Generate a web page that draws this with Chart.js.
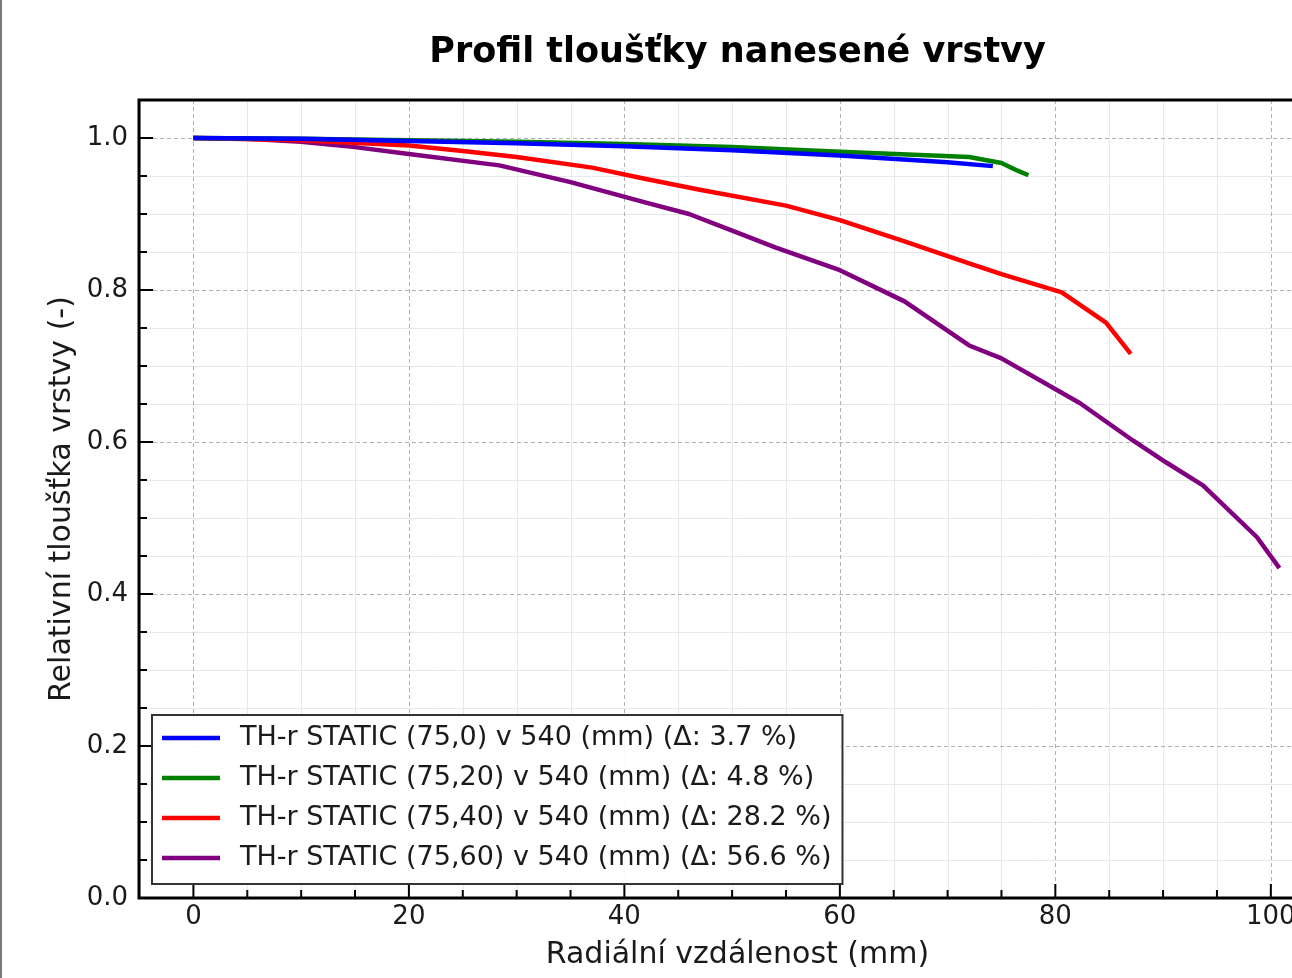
<!DOCTYPE html>
<html>
<head>
<meta charset="utf-8">
<script src="https://cdn.jsdelivr.net/npm/chart.js@4.4.1/dist/chart.umd.min.js"></script>
<style>
  html, body { margin: 0; padding: 0; background: #fff; overflow: hidden; }
  #obal { position: absolute; left: 0; top: 0; width: 1400px; height: 978px; }
  #okraj { position: absolute; left: 0; top: 0; width: 2px; height: 978px; background: #7a7a7a; }
</style>
</head>
<body>
<div id="obal"><canvas id="graf"></canvas></div>
<div id="okraj"></div>
<script>
// data (x = radialni vzdalenost v mm, y = relativni tloustka)
const modraX = [0, 10, 20, 30, 40, 50, 60, 70, 74.2];
const modraY = [1.0, 0.999, 0.996, 0.993, 0.989, 0.984, 0.977, 0.968, 0.963];

const zelenaX = [0, 10, 20, 30, 40, 50, 60, 72, 75, 76.5, 77.5];
const zelenaY = [1.0, 0.999, 0.997, 0.995, 0.992, 0.988, 0.982, 0.975, 0.967, 0.957, 0.951];

const cervenaX = [0, 10, 20, 25, 30, 37, 42, 47, 55, 60, 66, 72, 75, 80.6, 84.7, 87];
const cervenaY = [1.0, 0.997, 0.990, 0.983, 0.975, 0.961, 0.946, 0.932, 0.911, 0.892, 0.864, 0.835, 0.821, 0.797, 0.757, 0.716];

const fialovaX = [0, 5, 10, 15, 20, 28.4, 35, 42, 46, 50, 54, 60, 66, 72, 75, 82.3, 87.2, 90.3, 93.7, 98.7, 100.8];
const fialovaY = [1.0, 0.999, 0.995, 0.988, 0.979, 0.964, 0.942, 0.915, 0.900, 0.878, 0.856, 0.826, 0.785, 0.727, 0.710, 0.651, 0.602, 0.573, 0.543, 0.475, 0.434];

const popisky = [
    'TH-r STATIC (75,0) v 540 (mm) (\u0394: 3.7 %)',
    'TH-r STATIC (75,20) v 540 (mm) (\u0394: 4.8 %)',
    'TH-r STATIC (75,40) v 540 (mm) (\u0394: 28.2 %)',
    'TH-r STATIC (75,60) v 540 (mm) (\u0394: 56.6 %)'
];
const barvy = ['#0000ff', '#008000', '#ff0000', '#800080'];

const xTicky = [0, 20, 40, 60, 80, 100];
const yTicky = [0.0, 0.2, 0.4, 0.6, 0.8, 1.0];

const PISMO = 'DejaVu Sans';

function body(xs, ys) {
    return xs.map((x, i) => ({ x: x, y: ys[i] }));
}

function dataset(i, xs, ys) {
    return {
        label: popisky[i],
        data: body(xs, ys),
        borderColor: barvy[i],
        backgroundColor: barvy[i],
        borderWidth: 4.5,
        pointRadius: 0,
        tension: 0,
        fill: false,
        borderJoinStyle: 'round'
    };
}

// mrizka (hlavni carkovana, vedlejsi plna)
const mrizkaPlugin = {
    id: 'mrizka',
    beforeDatasetsDraw(chart) {
        const { ctx, chartArea: a, scales: { x, y } } = chart;
        ctx.save();
        ctx.beginPath();
        ctx.rect(a.left, a.top, a.right - a.left, a.bottom - a.top);
        ctx.clip();

        // vedlejsi
        ctx.strokeStyle = '#e8e8e8';
        ctx.lineWidth = 1;
        for (let v = -5; v <= 105; v += 5) {
            if (v % 20 === 0) continue;
            const px = Math.round(x.getPixelForValue(v)) + 0.5;
            ctx.beginPath(); ctx.moveTo(px, a.top); ctx.lineTo(px, a.bottom); ctx.stroke();
        }
        for (let k = 1; k <= 21; k++) {
            if (k % 4 === 0) continue;
            const py = Math.round(y.getPixelForValue(k * 0.05)) + 0.5;
            ctx.beginPath(); ctx.moveTo(a.left, py); ctx.lineTo(a.right, py); ctx.stroke();
        }

        // hlavni
        ctx.strokeStyle = '#b0b0b0';
        ctx.setLineDash([4, 3]);
        xTicky.forEach(v => {
            const px = Math.round(x.getPixelForValue(v)) + 0.5;
            ctx.beginPath(); ctx.moveTo(px, a.top); ctx.lineTo(px, a.bottom); ctx.stroke();
        });
        yTicky.forEach(v => {
            const py = Math.round(y.getPixelForValue(v)) + 0.5;
            ctx.beginPath(); ctx.moveTo(a.left, py); ctx.lineTo(a.right, py); ctx.stroke();
        });
        ctx.restore();
    },
    afterDatasetsDraw(chart) {
        const { ctx, chartArea: a, scales: { x, y } } = chart;
        ctx.save();
        ctx.strokeStyle = '#000';
        ctx.lineWidth = 2;
        // ticky dovnitr
        for (let v = -5; v <= 105; v += 5) {
            const px = x.getPixelForValue(v);
            if (px < a.left + 2 || px > a.right - 2) continue;
            const len = v % 20 === 0 ? 14 : 8;
            ctx.beginPath(); ctx.moveTo(px, a.bottom); ctx.lineTo(px, a.bottom - len); ctx.stroke();
        }
        for (let k = 1; k <= 20; k++) {
            const py = y.getPixelForValue(k * 0.05);
            const len = k % 4 === 0 ? 14 : 8;
            ctx.beginPath(); ctx.moveTo(a.left, py); ctx.lineTo(a.left + len, py); ctx.stroke();
        }
        // ramecek
        ctx.lineWidth = 3;
        ctx.strokeRect(a.left, a.top, a.right - a.left, a.bottom - a.top);
        ctx.restore();
    },
    afterDraw(chart) {
        // legenda vlevo dole
        const { ctx, chartArea: a } = chart;
        const sady = chart.data.datasets;
        ctx.save();
        ctx.font = '27px "' + PISMO + '"';
        let maxW = 0;
        sady.forEach(d => { maxW = Math.max(maxW, ctx.measureText(d.label).width); });
        const left = a.left + 13;
        const bottom = a.bottom - 14;
        const h = 23 + 40 * (sady.length - 1) + 26;
        const top = bottom - h;
        const w = 88 + maxW + 11;
        ctx.fillStyle = 'rgba(255,255,255,0.92)';
        ctx.fillRect(left, top, w, h);
        ctx.strokeStyle = '#333';
        ctx.lineWidth = 2;
        ctx.strokeRect(left, top, w, h);
        sady.forEach((d, i) => {
            const cy = top + 23 + 40 * i;
            ctx.strokeStyle = d.borderColor;
            ctx.lineWidth = 4.5;
            ctx.beginPath(); ctx.moveTo(left + 10, cy); ctx.lineTo(left + 68, cy); ctx.stroke();
            ctx.fillStyle = '#1a1a1a';
            ctx.textBaseline = 'middle';
            ctx.textAlign = 'left';
            ctx.fillText(d.label, left + 88, cy);
        });
        ctx.restore();
    }
};

window.onload = function () {
    const tickFont = { family: PISMO, size: 26 };
    const titleFont = { family: PISMO, size: 30 };

    new Chart(document.getElementById('graf'), {
        type: 'line',
        data: {
            datasets: [
                dataset(0, modraX, modraY),
                dataset(1, zelenaX, zelenaY),
                dataset(2, cervenaX, cervenaY),
                dataset(3, fialovaX, fialovaY)
            ]
        },
        options: {
            responsive: true,
            maintainAspectRatio: false,
            animation: false,
            devicePixelRatio: 1,
            layout: { padding: { left: 0, right: 64, top: 0, bottom: 0 } },
            plugins: {
                legend: { display: false },
                tooltip: { enabled: false },
                title: {
                    display: true,
                    text: 'Profil tlouš\u0165ky nanesené vrstvy',
                    fullSize: false,
                    color: '#000',
                    font: { family: PISMO, size: 35, weight: 'bold' },
                    padding: { top: 32, bottom: 26 }
                }
            },
            scales: {
                x: {
                    type: 'linear',
                    min: -5.05,
                    max: 106.05,
                    afterBuildTicks: s => { s.ticks = xTicky.map(v => ({ value: v })); },
                    afterFit: s => { s.height = 80; },
                    grid: { display: false, drawTicks: false },
                    border: { display: false },
                    ticks: { font: tickFont, color: '#1a1a1a', padding: 4, maxRotation: 0, callback: v => String(v) },
                    title: { display: true, text: 'Radiální vzdálenost (mm)', font: titleFont, color: '#1a1a1a', padding: { top: 0, bottom: 5 } }
                },
                y: {
                    type: 'linear',
                    min: 0,
                    max: 1.05,
                    afterBuildTicks: s => { s.ticks = yTicky.map(v => ({ value: v })); },
                    afterFit: s => { s.width = 139; },
                    grid: { display: false, drawTicks: false },
                    border: { display: false },
                    ticks: { font: tickFont, color: '#1a1a1a', padding: 11, callback: v => v.toFixed(1) },
                    title: { display: true, text: 'Relativní tlouš\u0165ka vrstvy (-)', font: titleFont, color: '#1a1a1a', padding: { top: 44, bottom: 0 } }
                }
            }
        },
        plugins: [mrizkaPlugin]
    });
};
</script>
</body>
</html>
